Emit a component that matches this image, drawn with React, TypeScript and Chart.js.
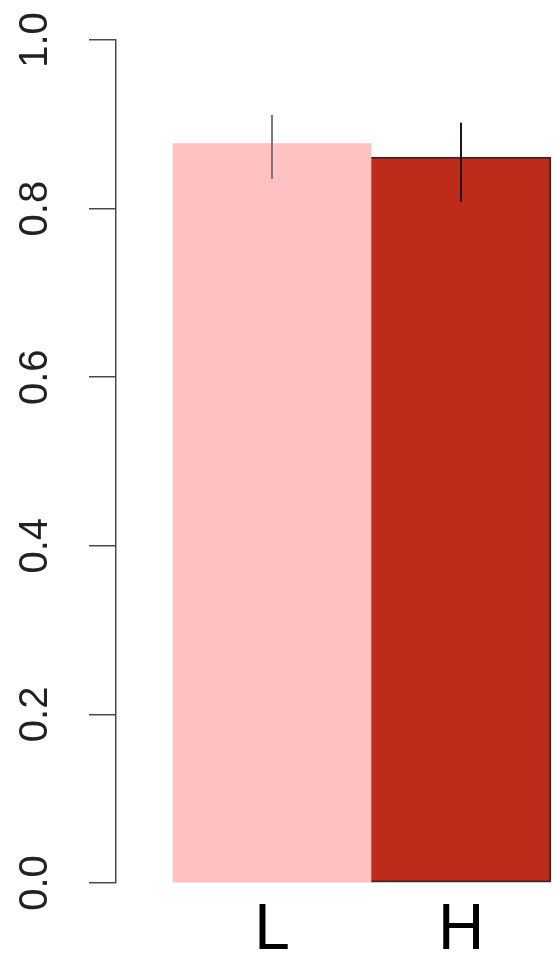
import React, { useEffect, useRef } from "react";
import { Chart, registerables } from "chart.js";

Chart.register(...registerables);

// Group labels and mean proportions with their error-bar limits
const categories = ["L", "H"];
const means = [0.877, 0.861];
const errLow = [0.835, 0.808];
const errHigh = [0.911, 0.902];
const yTicks = [0, 0.2, 0.4, 0.6, 0.8, 1.0];

const fillColors = ["#ffc1c1", "#bf2b1b"];
const edgeColors = ["rgba(0,0,0,0)", "#3b2826"];
const whiskerColors = ["#7a7a7a", "#1e1412"];

const errorBarPlugin = {
  id: "errorBars",
  afterDatasetsDraw(chart: any) {
    const { ctx, scales } = chart;
    const xs = scales.x;
    const ys = scales.y;
    ctx.save();
    categories.forEach((_, i) => {
      const px = xs.getPixelForValue(i + 1);
      ctx.beginPath();
      ctx.strokeStyle = whiskerColors[i];
      ctx.lineWidth = 2;
      ctx.moveTo(px, ys.getPixelForValue(errLow[i]));
      ctx.lineTo(px, ys.getPixelForValue(errHigh[i]));
      ctx.stroke();
    });
    ctx.restore();
  },
};

export default function App() {
  const canvasRef = useRef<HTMLCanvasElement | null>(null);

  useEffect(() => {
    document.body.style.margin = "0";
    const canvas = canvasRef.current;
    if (!canvas) return;

    const datasets = categories.map((name, i) => ({
      label: name,
      data: [{ x: i + 1, y: means[i] }],
      backgroundColor: fillColors[i],
      borderColor: edgeColors[i],
      borderWidth: i === 0 ? 0 : { top: 2, right: 2, bottom: 2, left: 0 },
      borderSkipped: false as const,
      barThickness: i === 0 ? 198 : 180,
      grouped: false,
    }));

    const chart = new Chart(canvas, {
      type: "bar",
      data: { datasets },
      options: {
        animation: false,
        responsive: false,
        devicePixelRatio: 1,
        layout: { padding: { top: 40, right: 0, left: 0, bottom: 0 } },
        plugins: {
          legend: { display: false },
          tooltip: { enabled: false },
        },
        scales: {
          x: {
            type: "linear",
            offset: false,
            min: 0.1746,
            max: 2.4974,
            grid: { display: false, drawTicks: false, offset: false },
            border: { display: false },
            afterBuildTicks: (axis: any) => {
              axis.ticks = categories.map((_, i) => ({ value: i + 1 }));
            },
            afterFit: (axis: any) => {
              axis.height = 72;
              axis.paddingLeft = 0;
              axis.paddingRight = 0;
            },
            ticks: {
              autoSkip: false,
              maxRotation: 0,
              minRotation: 0,
              padding: 10,
              color: "#000000",
              font: { family: "'Liberation Sans', Arial, sans-serif", size: 64 },
              callback: (v: any) => categories[Math.round(Number(v)) - 1] ?? "",
            },
          },
          y: {
            type: "linear",
            min: 0,
            max: 1,
            afterBuildTicks: (axis: any) => {
              axis.ticks = yTicks.map((v) => ({ value: v }));
            },
            afterFit: (axis: any) => {
              axis.width = 116;
              axis.paddingTop = 0;
              axis.paddingBottom = 0;
            },
            border: { display: true, color: "#4a4a4a", width: 1.5 },
            grid: {
              drawOnChartArea: false,
              drawTicks: true,
              tickLength: 27,
              color: "#4a4a4a",
              lineWidth: 1.5,
            },
            ticks: {
              autoSkip: false,
              minRotation: 90,
              maxRotation: 90,
              crossAlign: "center",
              padding: 25,
              color: "#222222",
              font: { family: "'Liberation Sans', Arial, sans-serif", size: 40 },
              callback: (v: any) => Number(v).toFixed(1),
            },
          },
        },
      },
      plugins: [errorBarPlugin],
    } as any);

    return () => chart.destroy();
  }, []);

  return (
    <div style={{ position: "fixed", left: 0, top: 0, width: 555, height: 955, background: "#ffffff" }}>
      <canvas ref={canvasRef} width={555} height={955} />
    </div>
  );
}
